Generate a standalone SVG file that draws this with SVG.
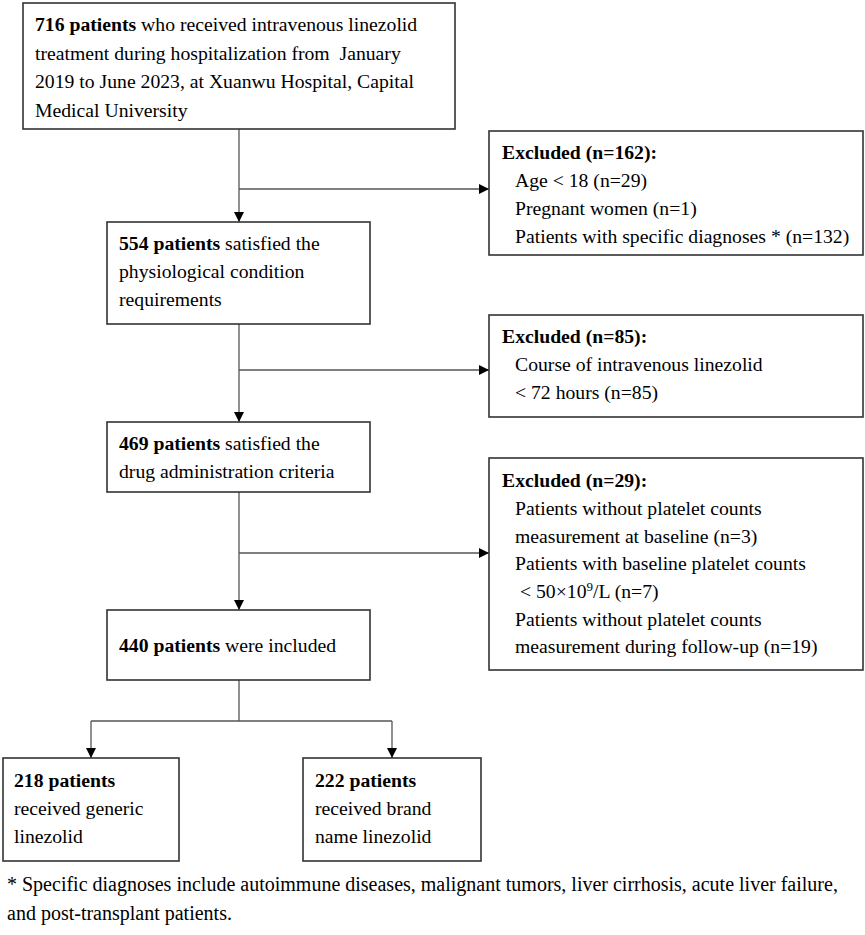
<svg xmlns="http://www.w3.org/2000/svg" width="865" height="935" viewBox="0 0 865 935">
<style>
  text { font-family: "Liberation Serif", "Times New Roman", serif; font-size: 19.7px; fill: #000; }
  .b { font-weight: bold; }
  .box { fill: #fff; stroke: #333; stroke-width: 1.6; }
  .ln { fill: none; stroke: #555; stroke-width: 1.3; }
  .fn { font-size: 20px; }
</style>
<defs>
  <marker id="ah" viewBox="0 0 10 10" refX="10" refY="5" markerWidth="10" markerHeight="10" markerUnits="userSpaceOnUse" orient="auto">
    <path d="M0,0 L10,5 L0,10 Z" fill="#000"/>
  </marker>
</defs>
<rect width="865" height="935" fill="#fff"/>
<g id="connectors">
  <line class="ln" x1="239" y1="129" x2="239" y2="222" marker-end="url(#ah)"/>
  <line class="ln" x1="239" y1="189" x2="489" y2="189" marker-end="url(#ah)"/>
  <line class="ln" x1="239" y1="324" x2="239" y2="422" marker-end="url(#ah)"/>
  <line class="ln" x1="239" y1="370" x2="489" y2="370" marker-end="url(#ah)"/>
  <line class="ln" x1="239" y1="492" x2="239" y2="610" marker-end="url(#ah)"/>
  <line class="ln" x1="239" y1="553" x2="489" y2="553" marker-end="url(#ah)"/>
  <path class="ln" d="M239,680 V721 M91,721 H392"/>
  <line class="ln" x1="91" y1="721" x2="91" y2="758" marker-end="url(#ah)"/>
  <line class="ln" x1="392" y1="721" x2="392" y2="758" marker-end="url(#ah)"/>
</g>
<g id="n716">
  <rect class="box" x="23" y="3" width="432" height="126"/>
  <text x="35" y="31"><tspan class="b">716 patients</tspan> who received intravenous linezolid</text>
  <text x="35" y="60" xml:space="preserve">treatment during hospitalization from  January</text>
  <text x="35" y="88">2019 to June 2023, at Xuanwu Hospital, Capital</text>
  <text x="35" y="117">Medical University</text>
</g>
<g id="ex162">
  <rect class="box" x="489" y="131" width="374" height="124"/>
  <text x="502" y="159" class="b">Excluded (n=162):</text>
  <text x="515" y="187">Age &lt; 18 (n=29)</text>
  <text x="515" y="215">Pregnant women (n=1)</text>
  <text x="515" y="243">Patients with specific diagnoses * (n=132)</text>
</g>
<g id="n554">
  <rect class="box" x="107" y="222" width="263" height="102"/>
  <text x="119" y="250"><tspan class="b">554 patients</tspan> satisfied the</text>
  <text x="119" y="278">physiological condition</text>
  <text x="119" y="306">requirements</text>
</g>
<g id="ex85">
  <rect class="box" x="489" y="315" width="374" height="102"/>
  <text x="502" y="343" class="b">Excluded (n=85):</text>
  <text x="515" y="371">Course of intravenous linezolid</text>
  <text x="515" y="399">&lt; 72 hours (n=85)</text>
</g>
<g id="n469">
  <rect class="box" x="107" y="422" width="263" height="70"/>
  <text x="119" y="450"><tspan class="b">469 patients</tspan> satisfied the</text>
  <text x="119" y="478">drug administration criteria</text>
</g>
<g id="ex29">
  <rect class="box" x="489" y="458" width="374" height="212"/>
  <text x="502" y="487" class="b">Excluded (n=29):</text>
  <text x="515" y="515">Patients without platelet counts</text>
  <text x="515" y="543">measurement at baseline (n=3)</text>
  <text x="515" y="570">Patients with baseline platelet counts</text>
  <text x="520" y="598">&lt; 50×10<tspan font-size="13" dy="-7">9</tspan><tspan dy="7">/L (n=7)</tspan></text>
  <text x="515" y="626">Patients without platelet counts</text>
  <text x="515" y="653">measurement during follow-up (n=19)</text>
</g>
<g id="n440">
  <rect class="box" x="107" y="610" width="263" height="70"/>
  <text x="119" y="652"><tspan class="b">440 patients</tspan> were included</text>
</g>
<g id="n218">
  <rect class="box" x="3" y="758" width="176" height="103"/>
  <text x="14" y="787" class="b">218 patients</text>
  <text x="14" y="815">received generic</text>
  <text x="14" y="843">linezolid</text>
</g>
<g id="n222">
  <rect class="box" x="303" y="758" width="178" height="103"/>
  <text x="315" y="787" class="b">222 patients</text>
  <text x="315" y="815">received brand</text>
  <text x="315" y="843">name linezolid</text>
</g>
<g id="footnote">
  <text class="fn" x="7" y="891">* Specific diagnoses include autoimmune diseases, malignant tumors, liver cirrhosis, acute liver failure,</text>
  <text class="fn" x="7" y="920">and post-transplant patients.</text>
</g>
</svg>
